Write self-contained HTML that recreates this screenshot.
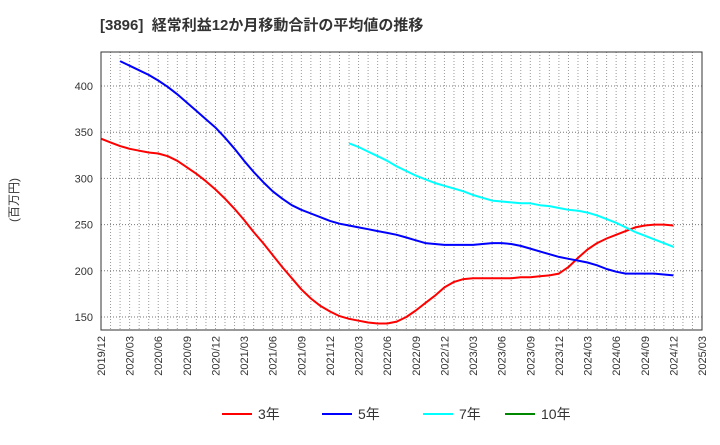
<!DOCTYPE html>
<html><head><meta charset="utf-8"><style>
body{margin:0;background:#fff;font-family:"Liberation Sans","Noto Sans CJK JP",sans-serif;}
</style></head><body>
<svg width="720" height="440" xmlns="http://www.w3.org/2000/svg" style="font-family:'Liberation Sans','Noto Sans CJK JP',sans-serif">
<text x="100" y="30" font-size="15" font-weight="bold" fill="#333">[3896]&#160;&#160;経常利益12か月移動合計の平均値の推移</text>
<text transform="translate(18,200) rotate(-90)" font-size="12" fill="#333" text-anchor="middle">(百万円)</text>
<g id="grid"></g><g id="axes"></g><g id="series"></g>
<rect x="101" y="52" width="601" height="278" fill="none" stroke="#333" stroke-width="1"/>
<g id="legend"></g>
</svg>
<script>
const xTicks=["2019/12","2020/03","2020/06","2020/09","2020/12","2021/03","2021/06","2021/09","2021/12","2022/03","2022/06","2022/09","2022/12","2023/03","2023/06","2023/09","2023/12","2024/03","2024/06","2024/09","2024/12","2025/03"];
const yTicks=[150,200,250,300,350,400];
const red=[343,339,335,332,330,328,327,324,319,312,305,297,288,278,267,255,242,230,217,204,192,180,170,162,156,151,148,146,144,143,143,145,150,157,165,173,182,188,191,192,192,192,192,192,193,193,194,195,197,204,214,223,230,235,239,243,247,249,250,250,249];
const blue=[427,422,417,412,406,399,391,382,373,364,355,344,332,319,307,296,286,278,271,266,262,258,254,251,249,247,245,243,241,239,236,233,230,229,228,228,228,228,229,230,230,229,227,224,221,218,215,213,211,209,206,202,199,197,197,197,197,196,195];
const blueStart=2;
const cyan=[338,334,329,324,319,313,308,303,299,295,292,289,286,282,279,276,275,274,273,273,271,270,268,266,265,263,260,256,252,247,242,238,234,230,226];
const cyanStart=26;
const NS="http://www.w3.org/2000/svg";
const X0=101,X1=702,Y0=52,Y1=330,months=63;
const xs=m=>X0+(X1-X0)*m/months;
const ys=v=>317-(v-150)*(317-86)/250;
function mk(t,a,p){const e=document.createElementNS(NS,t);for(const k in a)e.setAttribute(k,a[k]);p.appendChild(e);return e;}
const grid=document.getElementById('grid'),axes=document.getElementById('axes'),ser=document.getElementById('series'),leg=document.getElementById('legend');
for(let m=1;m<months;m++){const l=mk('line',{x1:xs(m),x2:xs(m),y1:Y0,y2:Y1,stroke:'#999','stroke-dasharray':'1,2','stroke-width':1},grid);

}
yTicks.forEach(v=>{const l=mk('line',{x1:X0,x2:X1,y1:ys(v),y2:ys(v),stroke:'#777','stroke-dasharray':'1,2'},grid);


const t=mk('text',{x:X0-8,y:ys(v)+4,'text-anchor':'end','font-size':11,fill:'#333'},axes);t.textContent=v;

});
xTicks.forEach((s,i)=>{const x=xs(i*3);const t=mk('text',{transform:`translate(${x+4},${Y1+6}) rotate(-90)`,'text-anchor':'end','font-size':11,fill:'#333'},axes);t.textContent=s;

});
function line(arr,start,col,name){const pts=arr.map((v,i)=>xs(start+i).toFixed(1)+','+ys(v).toFixed(1)).join(' ');
const p=mk('polyline',{points:pts,fill:'none',stroke:col,'stroke-width':2,'stroke-linejoin':'round'},ser);

}
line(red,0,'#f00','series-3yr');line(blue,blueStart,'#00f','series-5yr');line(cyan,cyanStart,'#0ff','series-7yr');
[['3年','#f00',222],['5年','#00f',322],['7年','#0ff',423],['10年','#080',505]].forEach(([n,c,x])=>{
const g=mk('g',{},leg);


mk('line',{x1:x,x2:x+30,y1:414,y2:414,stroke:c,'stroke-width':2},g);
const t=mk('text',{x:x+36,y:419,'font-size':14,fill:'#333'},g);t.textContent=n;});
</script>
</body></html>
